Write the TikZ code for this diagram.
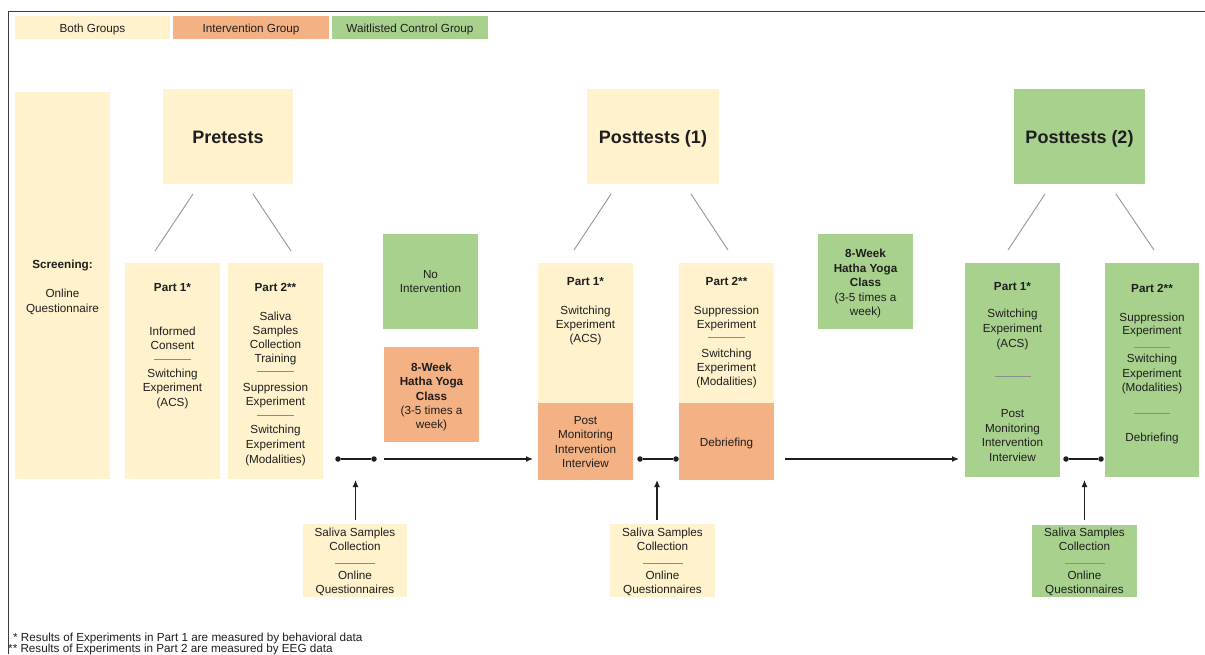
\documentclass[tikz,border=0pt]{standalone}
\usepackage{fontspec}
\setmainfont{Liberation Sans}
\usetikzlibrary{arrows.meta,calc}
\definecolor{yel}{RGB}{255,242,204}
\definecolor{org}{RGB}{244,177,131}
\definecolor{grn}{RGB}{169,209,142}
\definecolor{ink}{RGB}{30,30,30}
\definecolor{lgray}{RGB}{150,150,150}
\definecolor{sgray}{RGB}{140,140,140}
\definecolor{frm}{RGB}{60,60,60}
\newcounter{tlc}
\newcommand\bx[6]{\node[boxs,fill=#6,minimum width={#4-#2},minimum height={#5-#3}] (#1) at ({(#2+#4)/2},{(#3+#5)/2}) {};}
\newcommand\tx[4][]{\stepcounter{tlc}\node[txt,#1] (t\arabic{tlc}) at ({#2},{#3+4}) {#4};}
\newcommand\sepl[3]{\draw[sepline] ({#1-#3/2},#2) -- ({#1+#3/2},#2);}
\tikzset{
  boxs/.style={draw=none,inner sep=0pt,outer sep=0pt,rectangle},
  txt/.style={anchor=base,inner sep=0pt,text=ink,font=\fontsize{11.7}{14}\selectfont},
  bf/.style={font=\fontsize{11.7}{14}\selectfont\bfseries},
  big/.style={font=\fontsize{18}{20}\selectfont\bfseries},
  foot/.style={anchor=base west,inner sep=0pt,text=ink,font=\fontsize{11.7}{14}\selectfont},
  sepline/.style={draw=sgray,line width=0.8pt},
  hline/.style={draw=lgray,line width=0.9pt},
  arr/.style={draw=ink,line width=1.2pt,-{Latex[length=7pt,width=6pt]}},
  dk/.style={draw=ink,line width=1.2pt},
  dot/.style={circle,fill=ink,draw=none,inner sep=0pt,minimum size=5.5pt},
  framel/.style={draw=frm,line width=1.5pt}
}
\begin{document}
\begin{tikzpicture}[x=1pt,y=-1pt]
\useasboundingbox (0,0) rectangle (1205,654);
\fill[white] (0,0) rectangle (1205,654);
\draw[framel] (8.5,654) -- (8.5,11.5) -- (1205,11.5);

% legend
\bx{lg1}{15}{16}{170}{39}{yel}
\bx{lg2}{173}{16}{329}{39}{org}
\bx{lg3}{332}{16}{488}{39}{grn}
\tx{92.5}{28}{Both Groups}
\tx{251}{28}{Intervention Group}
\tx{410}{28}{Waitlisted Control Group}

% screening
\bx{scr}{15}{92}{110}{479}{yel}
\tx[bf]{62.5}{264}{Screening:}
\tx{62.5}{293}{Online}
\tx{62.5}{308}{Questionnaire}

% pretests
\bx{pre}{163}{89}{293}{184}{yel}
\tx[big]{228}{139.5}{Pretests}
\bx{pa1}{125}{263}{220}{479}{yel}
\tx[bf]{172.5}{287}{Part 1*}
\tx{172.5}{331}{Informed}
\tx{172.5}{345}{Consent}
\sepl{172.5}{359}{37}
\tx{172.5}{373}{Switching}
\tx{172.5}{387}{Experiment}
\tx{172.5}{402}{(ACS)}
\bx{pa2}{228}{263}{323}{479}{yel}
\tx[bf]{275.5}{287}{Part 2**}
\tx{275.5}{316}{Saliva}
\tx{275.5}{330}{Samples}
\tx{275.5}{344}{Collection}
\tx{275.5}{358}{Training}
\sepl{275.5}{371}{37}
\tx{275.5}{387}{Suppression}
\tx{275.5}{401}{Experiment}
\sepl{275.5}{415}{37}
\tx{275.5}{429}{Switching}
\tx{275.5}{444}{Experiment}
\tx{275.5}{459}{(Modalities)}
\coordinate (h1a) at (193,194); \coordinate (h1b) at (155,251);
\coordinate (h2a) at (253,194); \coordinate (h2b) at (291,251);
\draw[hline] (h1a) -- (h1b);
\draw[hline] (h2a) -- (h2b);

% interventions
\bx{noi}{383}{234}{478}{329}{grn}
\tx{430.5}{274}{No}
\tx{430.5}{288}{Intervention}
\bx{yo1}{384}{347}{479}{442}{org}
\tx[bf]{431.5}{367}{8-Week}
\tx[bf]{431.5}{381}{Hatha Yoga}
\tx[bf]{431.5}{396}{Class}
\tx{431.5}{410}{(3-5 times a}
\tx{431.5}{424}{week)}

% saliva 1
\bx{sal1}{303}{524}{407}{597}{yel}
\tx{355}{532}{Saliva Samples}
\tx{355}{546}{Collection}
\sepl{355}{563}{40}
\tx{355}{575}{Online}
\tx{355}{589}{Questionnaires}

% posttests 1
\bx{po1}{587}{89}{719}{184}{yel}
\tx[big]{653}{139.5}{Posttests (1)}
\bx{pp1}{538}{263}{633}{480}{yel}
\bx{pp1o}{538}{403}{633}{480}{org}
\tx[bf]{585.5}{281}{Part 1*}
\tx{585.5}{310}{Switching}
\tx{585.5}{324}{Experiment}
\tx{585.5}{338}{(ACS)}
\tx{585.5}{420}{Post}
\tx{585.5}{434}{Monitoring}
\tx{585.5}{449}{Intervention}
\tx{585.5}{463}{Interview}
\bx{pp2}{679}{263}{774}{480}{yel}
\bx{pp2o}{679}{403}{774}{480}{org}
\tx[bf]{726.5}{281}{Part 2**}
\tx{726.5}{310}{Suppression}
\tx{726.5}{324}{Experiment}
\sepl{726.5}{337}{37}
\tx{726.5}{353}{Switching}
\tx{726.5}{367}{Experiment}
\tx{726.5}{381}{(Modalities)}
\tx{726.5}{442}{Debriefing}
\coordinate (h3a) at (611,194); \coordinate (h3b) at (574,250);
\coordinate (h4a) at (691,194); \coordinate (h4b) at (728,250);
\draw[hline] (h3a) -- (h3b);
\draw[hline] (h4a) -- (h4b);

% saliva 2
\bx{sal2}{610}{524}{715}{597}{yel}
\tx{662.5}{532}{Saliva Samples}
\tx{662.5}{546}{Collection}
\sepl{662.5}{563}{40}
\tx{662.5}{575}{Online}
\tx{662.5}{589}{Questionnaires}

% yoga 2
\bx{yo2}{818}{234}{913}{329}{grn}
\tx[bf]{865.5}{253}{8-Week}
\tx[bf]{865.5}{268}{Hatha Yoga}
\tx[bf]{865.5}{282}{Class}
\tx{865.5}{297}{(3-5 times a}
\tx{865.5}{311}{week)}

% posttests 2
\bx{po2}{1014}{89}{1145}{184}{grn}
\tx[big]{1079.5}{139.5}{Posttests (2)}
\bx{qp1}{965}{263}{1060}{477}{grn}
\tx[bf]{1012.5}{286}{Part 1*}
\tx{1012.5}{313}{Switching}
\tx{1012.5}{328}{Experiment}
\tx{1012.5}{343}{(ACS)}
\sepl{1012.5}{376}{36}
\tx{1012.5}{413}{Post}
\tx{1012.5}{428}{Monitoring}
\tx{1012.5}{442}{Intervention}
\tx{1012.5}{457}{Interview}
\bx{qp2}{1105}{263}{1199}{477}{grn}
\tx[bf]{1152}{288}{Part 2**}
\tx{1152}{317}{Suppression}
\tx{1152}{330}{Experiment}
\sepl{1152}{347}{36}
\tx{1152}{358}{Switching}
\tx{1152}{373}{Experiment}
\tx{1152}{387}{(Modalities)}
\sepl{1152}{413}{36}
\tx{1152}{437}{Debriefing}
\coordinate (h5a) at (1045,194); \coordinate (h5b) at (1008,250);
\coordinate (h6a) at (1116,194); \coordinate (h6b) at (1154,250);
\draw[hline] (h5a) -- (h5b);
\draw[hline] (h6a) -- (h6b);

% saliva 3
\bx{sal3}{1032}{525}{1137}{597}{grn}
\tx{1084.5}{532}{Saliva Samples}
\tx{1084.5}{546}{Collection}
\sepl{1084.5}{563}{40}
\tx{1084.5}{575}{Online}
\tx{1084.5}{589}{Questionnaires}

% dots and arrows
\node[dot] (d1a) at (338,459) {};
\node[dot] (d1b) at (374,459) {};
\draw[dk] (d1a) -- (d1b);
\node[dot] (d2a) at (640,459) {};
\node[dot] (d2b) at (676,459) {};
\draw[dk] (d2a) -- (d2b);
\node[dot] (d3a) at (1066,459) {};
\node[dot] (d3b) at (1101,459) {};
\draw[dk] (d3a) -- (d3b);

\coordinate (a1) at (384,459);
\draw[arr,shorten >=5pt] (a1) -- (a1 -| pp1.west);
\coordinate (a2) at (785,459);
\draw[arr,shorten >=6pt] (a2) -- (a2 -| qp1.west);

\coordinate (u1) at (355.5,480);
\draw[arr,shorten <=4pt] (u1 |- sal1.north) -- (u1);
\coordinate (u2) at (657,480);
\draw[arr,shorten <=4pt] (u2 |- sal2.north) -- (u2);
\coordinate (u3) at (1084.5,480);
\draw[arr,shorten <=5pt] (u3 |- sal3.north) -- (u3);

% footnotes
\node[foot] (fn1) at (13,641) {* Results of Experiments in Part 1 are measured by behavioral data};
\node[foot] (fn2) at (8,652) {** Results of Experiments in Part 2 are measured by EEG data};
\end{tikzpicture}
\end{document}
